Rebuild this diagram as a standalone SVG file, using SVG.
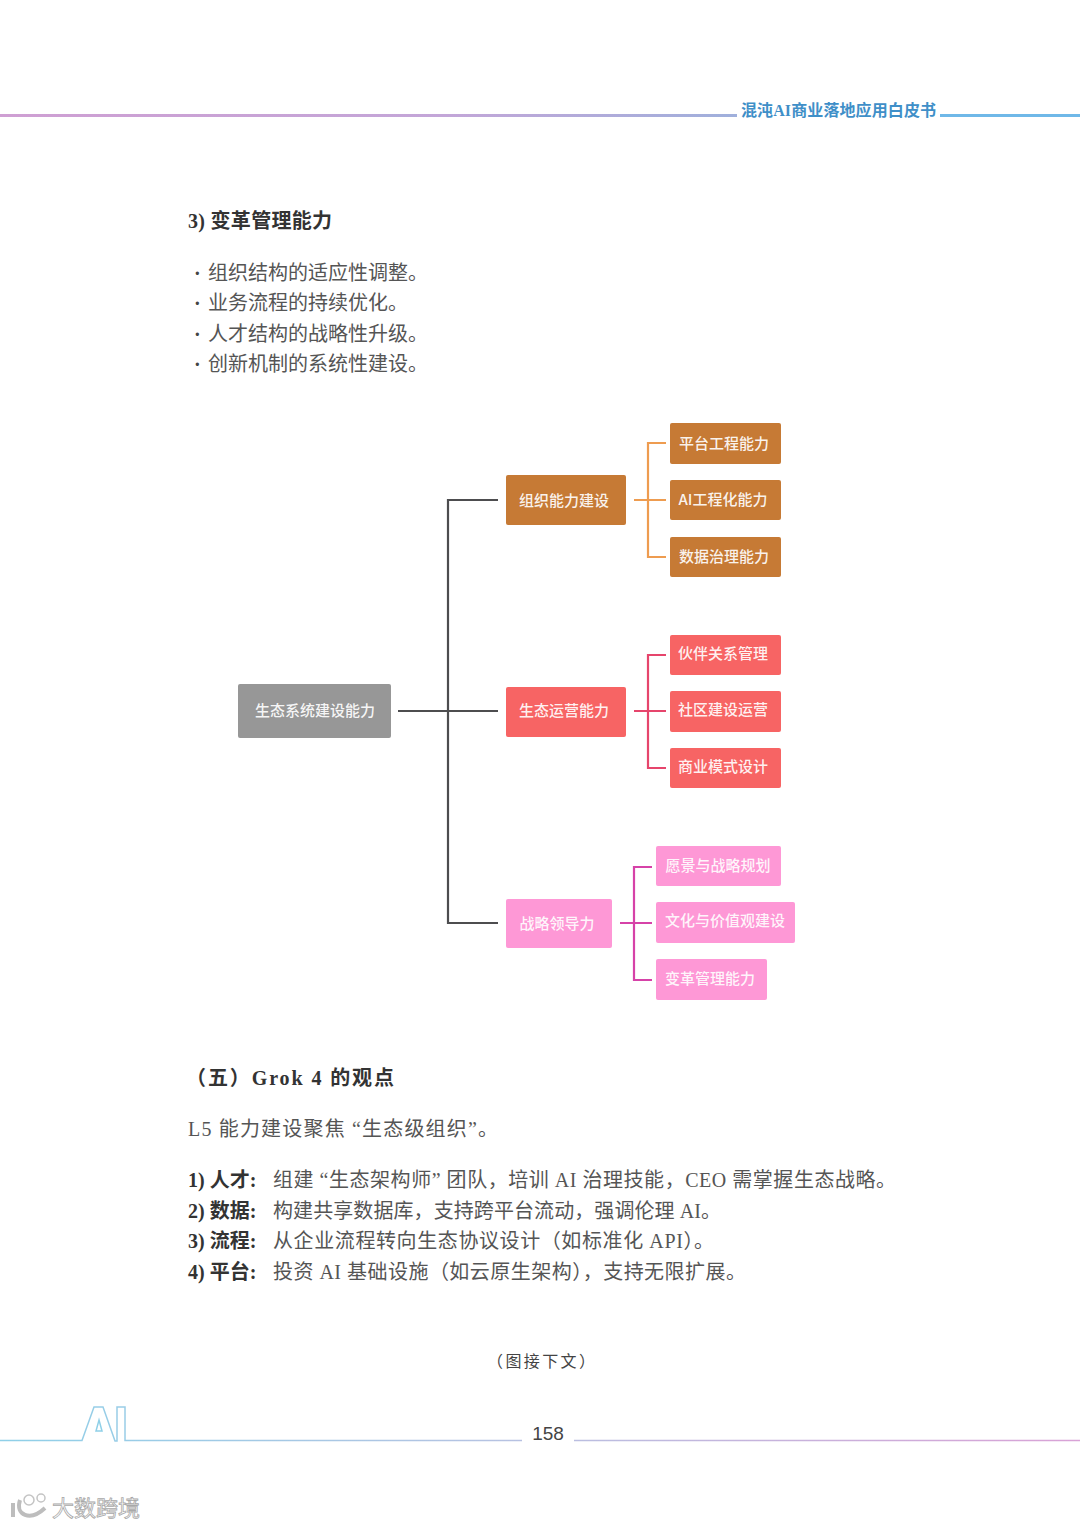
<svg xmlns="http://www.w3.org/2000/svg" width="1080" height="1527" viewBox="0 0 1080 1527">
<defs>
<linearGradient id="hdr" gradientUnits="userSpaceOnUse" x1="0" y1="0" x2="740" y2="0"><stop offset="0" stop-color="#cf9fd3"/><stop offset="0.6" stop-color="#c3a6d8"/><stop offset="1" stop-color="#9fb0dc"/></linearGradient>
<linearGradient id="ftr" gradientUnits="userSpaceOnUse" x1="0" y1="0" x2="1080" y2="0"><stop offset="0" stop-color="#8fd0e8"/><stop offset="0.45" stop-color="#b5c3e2"/><stop offset="1" stop-color="#d9a2d6"/></linearGradient>
</defs>
<style>
text{font-family:"Liberation Serif","Noto Sans CJK SC",sans-serif}
.body{font-size:20px;fill:#555}
.dot{font-weight:700;fill:#444}
.b{font-weight:700;fill:#333}
.h{font-size:20px;font-weight:700;fill:#333}
.n{font-family:"Noto Sans CJK SC","Liberation Sans",sans-serif;font-size:15px;font-weight:500;fill:#fff;fill-opacity:.92;text-anchor:middle;dominant-baseline:central}
.org rect{fill:#c67a35}.eco rect{fill:#f76464}.str rect{fill:#fe98d6}.root rect{fill:#979797}
#connectors path{fill:none;stroke-width:2.200}
</style>
<rect width="1080" height="1527" fill="#fff"/>
<g id="header">
<rect x="0" y="114" width="737" height="3" fill="url(#hdr)"/>
<rect x="940" y="114" width="140" height="3" fill="#6fb8e8"/>
<text x="741" y="116" font-size="16" font-weight="700" fill="#3f8fc8" textLength="195" lengthAdjust="spacing">混沌AI商业落地应用白皮书</text>
</g>
<g id="section-top">
<text class="h" x="188" y="228" textLength="144" lengthAdjust="spacing">3) 变革管理能力</text>
<text class="body dot" x="194" y="280">·</text><text class="body" x="208" y="280">组织结构的适应性调整。</text>
<text class="body dot" x="194" y="310">·</text><text class="body" x="208" y="310">业务流程的持续优化。</text>
<text class="body dot" x="194" y="341">·</text><text class="body" x="208" y="341">人才结构的战略性升级。</text>
<text class="body dot" x="194" y="371">·</text><text class="body" x="208" y="371">创新机制的系统性建设。</text>
</g>
<g id="connectors">
<path stroke="#4d4d4f" d="M398 711H498M498 500H448V923H498"/>
<path stroke="#ee9c50" d="M634 500H666M666 443H648V557H666"/>
<path stroke="#e6456c" d="M634 711H666M666 655H648V768H666"/>
<path stroke="#d642a8" d="M620 923H652M652 867H634V980H652"/>
</g>
<g id="node-root" class="root"><rect x="238" y="684" width="153" height="54" rx="2"/><text class="n" x="315" y="709.500">生态系统建设能力</text></g>
<g id="node-org" class="org"><rect x="506" y="475" width="120" height="50" rx="2"/><text class="n" x="564" y="499.500">组织能力建设</text></g>
<g id="node-org-1" class="org"><rect x="670" y="423" width="111" height="41" rx="2"/><text class="n" x="724" y="442.500">平台工程能力</text></g>
<g id="node-org-2" class="org"><rect x="670" y="480" width="111" height="40" rx="2"/><text class="n" x="723" y="498.500">AI工程化能力</text></g>
<g id="node-org-3" class="org"><rect x="670" y="537" width="111" height="40" rx="2"/><text class="n" x="724" y="555.500">数据治理能力</text></g>
<g id="node-eco" class="eco"><rect x="506" y="687" width="120" height="50" rx="2"/><text class="n" x="564" y="709.500">生态运营能力</text></g>
<g id="node-eco-1" class="eco"><rect x="670" y="635" width="111" height="40" rx="2"/><text class="n" x="723" y="652.500">伙伴关系管理</text></g>
<g id="node-eco-2" class="eco"><rect x="670" y="691" width="111" height="41" rx="2"/><text class="n" x="723" y="708.500">社区建设运营</text></g>
<g id="node-eco-3" class="eco"><rect x="670" y="748" width="111" height="40" rx="2"/><text class="n" x="723" y="765.500">商业模式设计</text></g>
<g id="node-str" class="str"><rect x="506" y="899" width="106" height="49" rx="2"/><text class="n" x="557" y="922.500">战略领导力</text></g>
<g id="node-str-1" class="str"><rect x="656" y="846" width="125" height="40" rx="2"/><text class="n" x="718" y="864.500">愿景与战略规划</text></g>
<g id="node-str-2" class="str"><rect x="656" y="902" width="139" height="41" rx="2"/><text class="n" x="725" y="919.500">文化与价值观建设</text></g>
<g id="node-str-3" class="str"><rect x="656" y="959" width="111" height="41" rx="2"/><text class="n" x="710" y="977.500">变革管理能力</text></g>
<g id="section-bottom">
<text class="h" x="186" y="1085" textLength="208" lengthAdjust="spacing">（五）Grok 4 的观点</text>
<text class="body" x="188" y="1136" textLength="310" lengthAdjust="spacing">L5 能力建设聚焦 “生态级组织”。</text>
<text class="body" x="188" y="1187"><tspan class="b">1) 人才:</tspan></text><text class="body" x="273" y="1187" textLength="623" lengthAdjust="spacing">组建 “生态架构师” 团队，培训 AI 治理技能，CEO 需掌握生态战略。</text>
<text class="body" x="188" y="1218"><tspan class="b">2) 数据:</tspan></text><text class="body" x="273" y="1218" textLength="448" lengthAdjust="spacing">构建共享数据库，支持跨平台流动，强调伦理 AI。</text>
<text class="body" x="188" y="1248"><tspan class="b">3) 流程:</tspan></text><text class="body" x="273" y="1248" textLength="441" lengthAdjust="spacing">从企业流程转向生态协议设计（如标准化 API）。</text>
<text class="body" x="188" y="1279"><tspan class="b">4) 平台:</tspan></text><text class="body" x="273" y="1279" textLength="473" lengthAdjust="spacing">投资 AI 基础设施（如云原生架构），支持无限扩展。</text>
<text x="487" y="1367" font-size="16" fill="#444" textLength="108" lengthAdjust="spacing">（图接下文）</text>
</g>
<g id="footer">
<path fill="none" stroke="url(#ftr)" stroke-width="1.5" d="M0 1440.500H82L94 1407H103L115 1441H117V1407H125V1440.500H522M574 1440.500H1080"/>
<path fill="none" stroke="#8fd0e8" stroke-width="1.500" d="M99 1420L102 1431H96Z"/>
<text x="548" y="1440" font-size="19" fill="#444" text-anchor="middle" style="font-family:'Liberation Sans',sans-serif">158</text>
</g>
<g id="watermark">
<path fill="none" stroke="#bdbdbd" stroke-width="4" d="M13 1503V1517M20 1500C15 1515 30 1522 45 1508"/>
<circle cx="29" cy="1500" r="5" fill="none" stroke="#c4c4c4" stroke-width="1.500"/><circle cx="41" cy="1498" r="4" fill="none" stroke="#c4c4c4" stroke-width="1.500"/>
<text x="52" y="1516" font-size="22" fill="#fff" stroke="#a8a8a8" stroke-width="0.800" textLength="88" lengthAdjust="spacing" style="font-family:'Noto Sans CJK SC',sans-serif">大数跨境</text>
</g>
</svg>
